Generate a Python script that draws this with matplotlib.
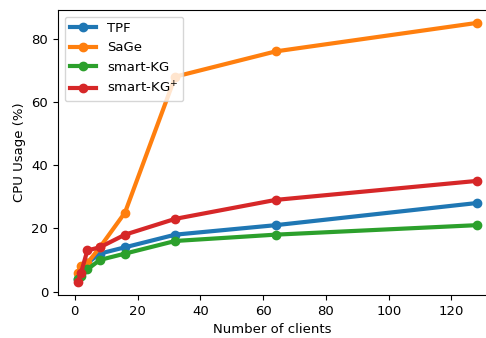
import matplotlib
matplotlib.use("Agg")
import matplotlib.pyplot as plt

plt.rcParams["savefig.bbox"] = "standard"

clients = [1, 2, 4, 8, 16, 32, 64, 128]
tpf = [4, 6, 9, 12, 14, 18, 21, 28]
sage = [6, 8, 9, 14, 25, 68, 76, 85]
smart_kg = [4, 5, 7, 10, 12, 16, 18, 21]
smart_kg_plus = [3, 6, 13, 14, 18, 23, 29, 35]

series = [
    ("TPF", tpf, "#1f77b4"),
    ("SaGe", sage, "#ff7f0e"),
    ("smart-KG", smart_kg, "#2ca02c"),
    ("smart-KG$^{+}$", smart_kg_plus, "#d62728"),
]

fig = plt.figure(figsize=(4.86, 3.38), dpi=100)
# the plotting area runs to the right edge of the canvas
ax = fig.add_axes([58 / 486, 1 - 295 / 338, 1 - 58 / 486, (295 - 10) / 338])

for label, values, color in series:
    ax.plot(clients, values, marker="o", linewidth=3, markersize=6,
            color=color, label=label)

ax.set_xlim(-5.35, 131.0)
ax.set_ylim(-1.1, 89.1)
ax.spines["right"].set_visible(False)
ax.set_xlabel("Number of clients", fontsize=9.5)
ax.set_ylabel("CPU Usage (%)", fontsize=9.5)
ax.tick_params(labelsize=9.5)
ax.set_xticks([0, 20, 40, 60, 80, 100, 120])
ax.set_yticks([0, 20, 40, 60, 80])
ax.legend(loc="upper left", fontsize=9.5)

fig.savefig("out.png", dpi=100)
